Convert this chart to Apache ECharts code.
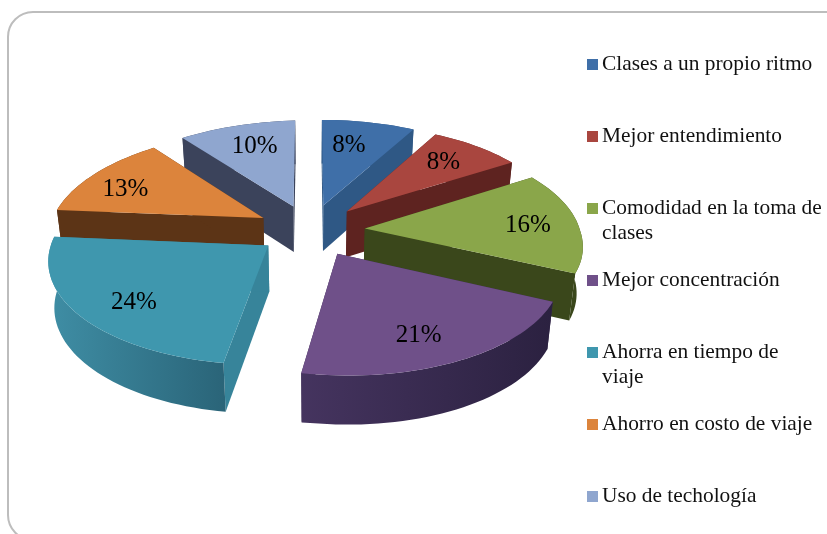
<!DOCTYPE html>
<html>
<head>
<meta charset="utf-8">
<style>html,body{margin:0;padding:0;background:#fff}#c{width:827px;height:534px}</style>
<script src="https://cdn.jsdelivr.net/npm/echarts@6/dist/echarts.min.js"></script>
</head>
<body>
<div id="c"></div>
<script>
const categories = ['Clases a un propio ritmo','Mejor entendimiento','Comodidad en la toma de clases','Mejor concentración','Ahorra en tiempo de viaje','Ahorro en costo de viaje','Uso de techología'];
const values = [8,8,16,21,24,13,10];
const legendLine1 = {'Comodidad en la toma de clases':'Comodidad en la toma de','Ahorra en tiempo de viaje':'Ahorra en tiempo de'};
const legendLine2 = {'Comodidad en la toma de clases':'clases','Ahorra en tiempo de viaje':'viaje'};
const topColors = ['#3f6fa8','#a9463f','#8aa64a','#6f5089','#3f97ae','#dc843c','#8fa6cf'];
const wallColors = ['#2f5885','#5e2320','#3a471b','#3a2b50','#37849a','#5c3416','#3b435b'];
const rimFrom = ['#2f5885','#5e2320','#3a471b','#45345f','#3f8ea5','#5c3416','#3b435b'];
const rimTo = ['#2f5885','#5e2320','#3a471b','#2b2140','#2a6478','#5c3416','#3b435b'];
const drawDepth = [1,2,4,6,5,3,0];
const explodeBy = [55,55,55,55,52,55,55];
const labelNudge = [[-8,2],[1,-1],[10,2],[-4,7],[-1,8],[-14,3],[3,0]];

const CX=310, CY=230, R=215, TILT=0.471, PERSP=0.00055, DEPTH=46, LABEL_AT=0.72;
const SKEW_FRONT=0.035, ROLL_LEFT=0.02, CONVERGE=0.0005;
const LEGEND_LEFT=587, LEGEND_TOP=54, LEGEND_PITCH=72, LEGEND_TEXT_LEFT=602, LEGEND_FIRST_CENTER=65, LEGEND_LINE=24;
const total = values.reduce((a,b)=>a+b,0);
const toRad = Math.PI/180;

function project(X,Z,down){
  const f = 1/(1+Z*PERSP);
  return [CX+X*f*(1-down*CONVERGE)+Math.max(0,-Z)*SKEW_FRONT, CY-Z*TILT*f+down*(1+(f-1)*0.4)+Math.max(0,-X)*ROLL_LEFT];
}
function renderSlice(params, api){
  const a0 = api.value(0)/total*360, a1 = (api.value(0)+api.value(1))/total*360, mid=(a0+a1)/2;
  const i = params.seriesIndex, n = Math.ceil((a1-a0)/2);
  const ox = explodeBy[i]*Math.sin(mid*toRad), oz = explodeBy[i]*Math.cos(mid*toRad);
  const at = (a,r,d)=>project(ox+r*Math.sin(a*toRad), oz+r*Math.cos(a*toRad), d);
  const arcTop=[], arcBot=[];
  for(let k=0;k<=n;k++){const a=a0+(a1-a0)*k/n; arcTop.push(at(a,R,0)); arcBot.push(at(a,R,DEPTH));}
  const apex=at(0,0,0), apexB=at(0,0,DEPTH);
  const wall=(a)=>({type:'polygon',shape:{points:[apex,at(a,R,0),at(a,R,DEPTH),apexB]},style:{fill:wallColors[i]}});
  const rim={type:'polygon',shape:{points:arcTop.concat(arcBot.slice().reverse())},
    style:{fill:new echarts.graphic.LinearGradient(0,0,1,0,[{offset:0,color:rimFrom[i]},{offset:1,color:rimTo[i]}])}};
  const top={type:'polygon',shape:{points:[apex].concat(arcTop)},style:{fill:topColors[i]}};
  const lp=at(mid,R*LABEL_AT,0);
  const label={type:'text',x:lp[0]+labelNudge[i][0],y:lp[1]+labelNudge[i][1],style:{text:Math.round(api.value(1))+'%',fill:'#000',font:'25px "Liberation Serif"',align:'center',verticalAlign:'middle'}};
  return {type:'group',children:[wall(a0),wall(a1),rim,top,label]};
}
let cum=0;
const series = categories.map((name,i)=>{
  const start=cum; cum+=values[i];
  return {type:'custom',name,coordinateSystem:'none',z:2+drawDepth[i],silent:true,animation:false,
    itemStyle:{color:topColors[i]},renderItem:renderSlice,data:[[start,values[i]]],clip:false};
});
const legendFont = {fontFamily:'"Liberation Serif"',fontSize:21.4,color:'#111',padding:[0,0,0,-1]};
const legends = categories.map((name,i)=>({orient:'vertical',left:LEGEND_LEFT,top:LEGEND_TOP+LEGEND_PITCH*i,padding:0,
  itemWidth:11,itemHeight:11,icon:'rect',selectedMode:false,data:[name],formatter:n=>legendLine1[n]||n,textStyle:legendFont}));
const frame = {type:'rect',z:0,silent:true,shape:{x:8,y:12,width:860,height:528,r:25},style:{fill:'#fff',stroke:'#bdbdbd',lineWidth:2}};
const secondLines = categories.map((name,i)=>legendLine2[name]?{type:'text',z:10,silent:true,x:LEGEND_TEXT_LEFT,
  y:LEGEND_FIRST_CENTER+LEGEND_PITCH*i+LEGEND_LINE,
  style:{text:legendLine2[name],fill:'#111',font:'21.4px "Liberation Serif"',verticalAlign:'middle'}}:null).filter(Boolean);
const chart = echarts.init(document.getElementById('c'),null,{renderer:'canvas'});
chart.setOption({
  animation:false,
  backgroundColor:'#fff',
  graphic:[frame].concat(secondLines),
  legend:legends,
  series
});
</script>
</body>
</html>
